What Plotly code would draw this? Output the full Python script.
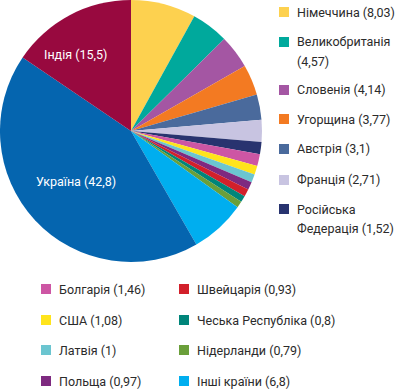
import plotly.graph_objects as go

countries = ["Німеччина", "Великобританія", "Словенія", "Угорщина", "Австрія", "Франція",
             "Російська Федерація", "Болгарія", "США", "Латвія", "Польща", "Швейцарія",
             "Чеська Республіка", "Нідерланди", "Інші країни", "Україна", "Індія"]
values = [8.03, 4.57, 4.14, 3.77, 3.1, 2.71, 1.52, 1.46, 1.08, 1, 0.97, 0.93, 0.8, 0.79, 6.8, 42.8, 15.5]
value_labels = ["8,03", "4,57", "4,14", "3,77", "3,1", "2,71", "1,52", "1,46", "1,08", "1", "0,97",
                "0,93", "0,8", "0,79", "6,8", "42,8", "15,5"]
colors = ["#FDD14F", "#00A99C", "#A456A3", "#F37A22", "#4A6A9C", "#C8C4E1", "#28336F",
          "#CD56A4", "#FFE41C", "#6BC5D0", "#7E2A80", "#D2202B", "#00857A", "#6A9F3A",
          "#00AEEF", "#0565AF", "#98093F"]

W, H = 400, 392
FONT = "Roboto, sans-serif"
FS = 12.5
TXT = "#2b2b2b"

fig = go.Figure(go.Pie(
    labels=countries, values=values, sort=False, direction="clockwise", rotation=0,
    marker=dict(colors=colors, line=dict(width=0)), textinfo="none", hoverinfo="label+value",
    domain=dict(x=[0, 262 / W], y=[1 - 262 / H, 1]), showlegend=False,
))

def px(x):
    return x / W

def py(y):
    return 1 - y / H

annotations = []
shapes = []

# inside labels
inside = {"Індія": (75, 55), "Україна": (76, 181)}
for name, (x, y) in inside.items():
    i = countries.index(name)
    annotations.append(dict(x=px(x), y=py(y), xref="paper", yref="paper", showarrow=False,
                            text=f"{name} ({value_labels[i]})", xanchor="center", yanchor="middle",
                            font=dict(family=FONT, size=FS, color="white")))

# legend layout: (country, square x, text x, y of first line, lines)
legend_items = [
    ("Німеччина", 279, 295, 12, None),
    ("Великобританія", 279, 295, 42, ["Великобританія", "(4,57)"]),
    ("Словенія", 279, 295, 90, None),
    ("Угорщина", 279, 295, 119, None),
    ("Австрія", 279, 295, 149, None),
    ("Франція", 279, 295, 180, None),
    ("Російська Федерація", 279, 295, 209, ["Російська", "Федерація (1,52)"]),
    ("Болгарія", 41, 57, 289, None),
    ("США", 41, 57, 320, None),
    ("Латвія", 41, 57, 350, None),
    ("Польща", 41, 57, 381, None),
    ("Швейцарія", 179, 195, 289, None),
    ("Чеська Республіка", 179, 195, 320, None),
    ("Нідерланди", 179, 195, 350, None),
    ("Інші країни", 179, 195, 381, None),
]
for name, sx, tx, y, lines in legend_items:
    i = countries.index(name)
    shapes.append(dict(type="rect", xref="paper", yref="paper", x0=px(sx), x1=px(sx + 10),
                       y0=py(y - 5), y1=py(y + 5), fillcolor=colors[i], line=dict(width=0)))
    if lines is None:
        lines = [f"{name} ({value_labels[i]})"]
    for k, line in enumerate(lines):
        annotations.append(dict(x=px(tx), y=py(y + 19.5 * k), xref="paper", yref="paper",
                                showarrow=False, text=line, xanchor="left", yanchor="middle",
                                font=dict(family=FONT, size=FS, color=TXT)))

fig.update_layout(width=W, height=H, margin=dict(l=0, r=0, t=0, b=0),
                  paper_bgcolor="white", plot_bgcolor="white",
                  annotations=annotations, shapes=shapes)
fig.write_html("out.html", config={"displayModeBar": False},
               post_script="document.body.style.margin='0';")
